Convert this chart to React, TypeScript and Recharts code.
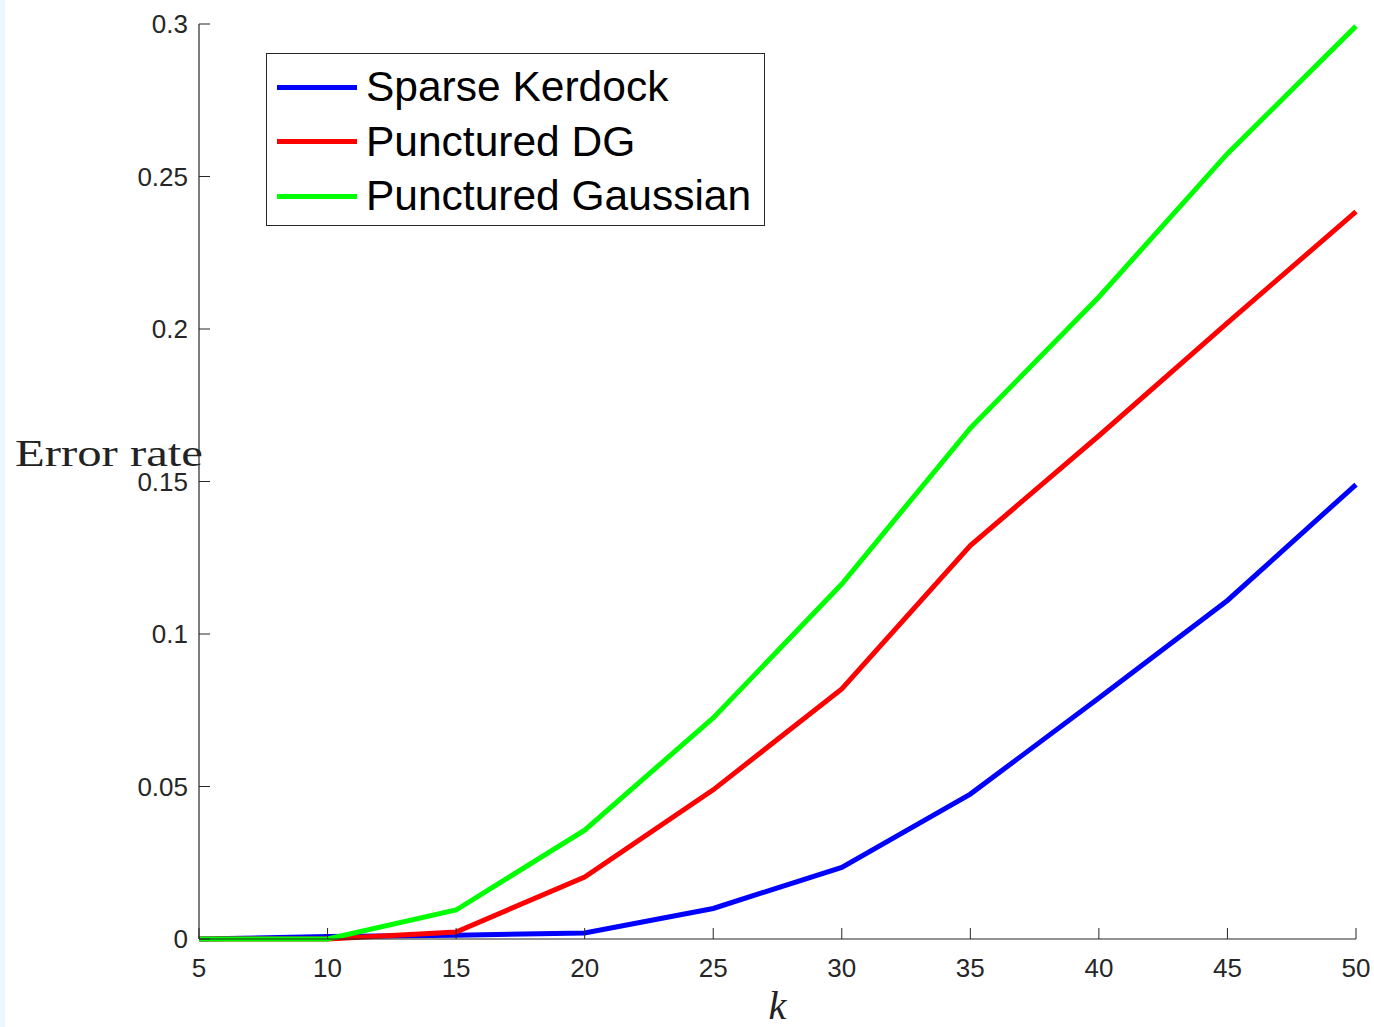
import React from 'react';
import { LineChart, Line, XAxis, YAxis, Legend, Label } from 'recharts';

const kValues = [5, 10, 15, 20, 25, 30, 35, 40, 45, 50];
const sparseKerdock = [0, 0.0008, 0.0012, 0.002, 0.01, 0.0235, 0.0475, 0.079, 0.111, 0.149];
const puncturedDG = [0, 0, 0.0023, 0.0203, 0.0489, 0.082, 0.129, 0.165, 0.202, 0.2385];
const puncturedGaussian = [0, 0, 0.0095, 0.0357, 0.0725, 0.1164, 0.1675, 0.2105, 0.2575, 0.2993];

const xTicks = [5, 10, 15, 20, 25, 30, 35, 40, 45, 50];
const yTicks = [0, 0.05, 0.1, 0.15, 0.2, 0.25, 0.3];
const yTickLabels = ['0', '0.05', '0.1', '0.15', '0.2', '0.25', '0.3'];

const seriesNames = ['Sparse Kerdock', 'Punctured DG', 'Punctured Gaussian'];
const seriesColors = ['#0000ff', '#ff0000', '#00ff00'];

const data = kValues.map((k, i) => ({
  k,
  sk: sparseKerdock[i],
  dg: puncturedDG[i],
  pg: puncturedGaussian[i],
}));

const AX = '#262626';
const SANS = '"Liberation Sans", Arial, Helvetica, sans-serif';
const SERIF = '"Liberation Serif", "Times New Roman", serif';
const TICK_LEN = 11;
const TICK_FONT = 26;

const BottomTick = (props: any) => {
  const { x, y, payload } = props;
  return (
    <g>
      <line x1={x} x2={x} y1={y} y2={y - TICK_LEN} stroke={AX} strokeWidth={1} />
      <text x={x} y={y + 38} textAnchor="middle" fontSize={TICK_FONT} fill={AX} fontFamily={SANS}>
        {payload.value}
      </text>
    </g>
  );
};

const TopTick = (props: any) => {
  const { x, y } = props;
  return <line x1={x} x2={x} y1={y} y2={y + TICK_LEN} stroke={AX} strokeWidth={1} />;
};

const LeftTick = (props: any) => {
  const { x, y, payload } = props;
  const idx = yTicks.indexOf(payload.value);
  const label = idx >= 0 ? yTickLabels[idx] : String(payload.value);
  return (
    <g>
      <line x1={x} x2={x + TICK_LEN} y1={y} y2={y} stroke={AX} strokeWidth={1} />
      <text x={x - 11} y={y + 9} textAnchor="end" fontSize={TICK_FONT} fill={AX} fontFamily={SANS}>
        {label}
      </text>
    </g>
  );
};

const RightTick = (props: any) => {
  const { x, y } = props;
  return <line x1={x} x2={x - TICK_LEN} y1={y} y2={y} stroke={AX} strokeWidth={1} />;
};

const LegendBox = (props: any) => {
  const payload = [...(props.payload || [])].sort(
    (a: any, b: any) => seriesNames.indexOf(a.value) - seriesNames.indexOf(b.value)
  );
  return (
    <div
      style={{
        border: `1px solid ${AX}`,
        background: '#fff',
        width: 499,
        height: 173,
        boxSizing: 'border-box',
        paddingTop: 6,
      }}
    >
      {payload.map((p: any, i: number) => (
        <div key={i} style={{ display: 'flex', alignItems: 'center', height: 54.5 }}>
          <div style={{ width: 80, height: 5, background: p.color, marginLeft: 10, marginRight: 9 }} />
          <span style={{ fontFamily: SANS, fontSize: 42.5, color: '#000', lineHeight: '54px' }}>{p.value}</span>
        </div>
      ))}
    </div>
  );
};

const YLabel = (props: any) => {
  const { viewBox } = props;
  return (
    <text
      x={viewBox.x + 15}
      y={viewBox.y + 442}
      fontFamily={SERIF}
      fontSize={37}
      fill="#222"
      textLength={188}
      lengthAdjust="spacingAndGlyphs"
    >
      Error rate
    </text>
  );
};

const XLabel = (props: any) => {
  const { viewBox } = props;
  return (
    <text
      x={viewBox.x + viewBox.width / 2}
      y={viewBox.y + 80}
      textAnchor="middle"
      fontFamily={SERIF}
      fontStyle="italic"
      fontSize={40}
      fill="#222"
    >
      k
    </text>
  );
};

export default function App() {
  return (
    <div style={{ position: 'absolute', left: 0, top: 0, width: 1374, height: 1027, background: '#fff' }}>
      <div style={{ position: 'absolute', left: 0, top: 0, width: 5, height: 1027, background: '#eef6fd' }} />
      <LineChart
        width={1374}
        height={1027}
        data={data}
        margin={{ top: 24, right: 18, bottom: 0, left: 0 }}
      >
        <XAxis
          dataKey="k"
          type="number"
          domain={[5, 50]}
          ticks={xTicks}
          height={88}
          tickSize={0}
          tickMargin={0}
          tickLine={false}
          axisLine={{ stroke: AX, strokeWidth: 1.2 }}
          tick={<BottomTick />}
          interval={0}
        >
          <Label content={<XLabel />} />
        </XAxis>
        <XAxis
          xAxisId="top"
          orientation="top"
          dataKey="k"
          type="number"
          domain={[5, 50]}
          ticks={xTicks}
          height={0}
          tickSize={0}
          tickMargin={0}
          tickLine={false}
          axisLine={{ stroke: AX, strokeWidth: 1.2 }}
          tick={<TopTick />}
          interval={0}
        />
        <YAxis
          type="number"
          domain={[0, 0.3]}
          ticks={yTicks}
          width={199}
          tickSize={0}
          tickMargin={0}
          tickLine={false}
          axisLine={{ stroke: AX, strokeWidth: 1.2 }}
          tick={<LeftTick />}
          interval={0}
        >
          <Label content={<YLabel />} />
        </YAxis>
        <YAxis
          yAxisId="right"
          orientation="right"
          type="number"
          domain={[0, 0.3]}
          ticks={yTicks}
          width={0}
          tickSize={0}
          tickMargin={0}
          tickLine={false}
          axisLine={{ stroke: AX, strokeWidth: 1.2 }}
          tick={<RightTick />}
          interval={0}
        />
        <Legend
          layout="horizontal"
          verticalAlign="middle"
          align="center"
          content={<LegendBox />}
          wrapperStyle={{ position: 'absolute', left: 266, top: 53, width: 'auto', height: 'auto' }}
        />
        <Line type="linear" dataKey="sk" name={seriesNames[0]} stroke={seriesColors[0]} strokeWidth={5} dot={false} isAnimationActive={false} />
        <Line type="linear" dataKey="dg" name={seriesNames[1]} stroke={seriesColors[1]} strokeWidth={5} dot={false} isAnimationActive={false} />
        <Line type="linear" dataKey="pg" name={seriesNames[2]} stroke={seriesColors[2]} strokeWidth={5} dot={false} isAnimationActive={false} />
      </LineChart>
    </div>
  );
}
